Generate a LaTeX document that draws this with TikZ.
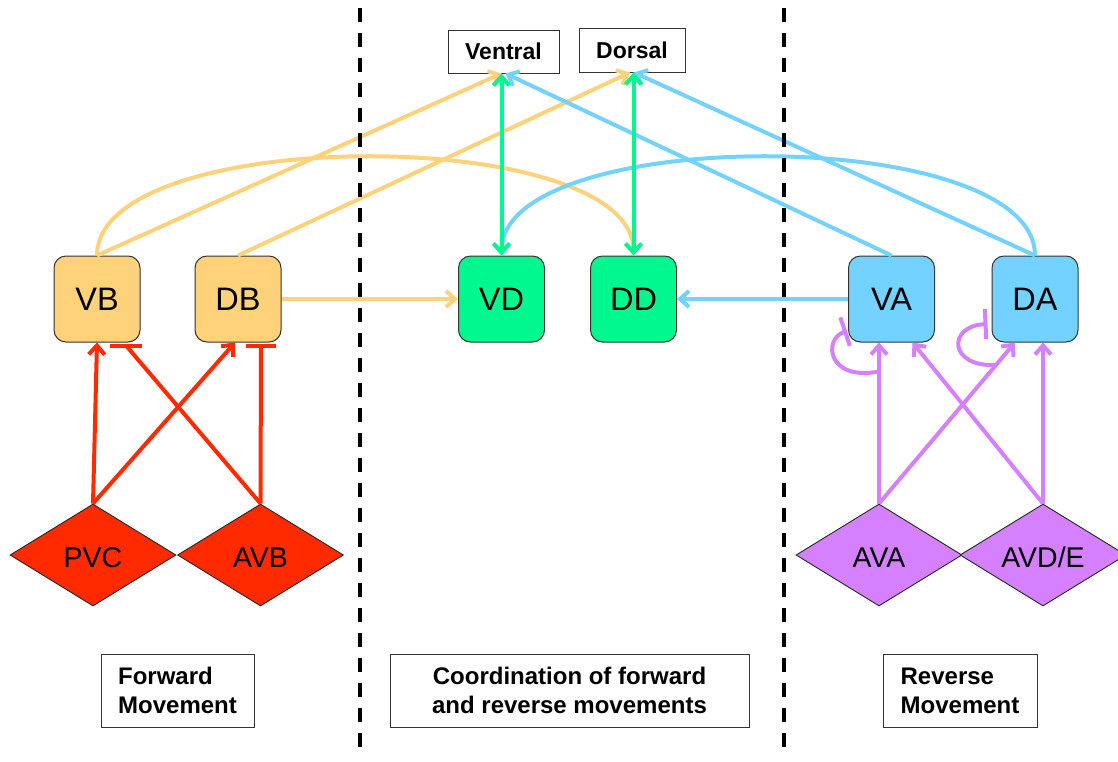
\documentclass[tikz,border=0pt]{standalone}
\usepackage{fontspec}
\setmainfont{Liberation Sans}
\usetikzlibrary{shapes.geometric,arrows.meta,calc}
\definecolor{cyel}{RGB}{253,210,122}
\definecolor{cgrn}{RGB}{0,248,142}
\definecolor{cblu}{RGB}{115,210,255}
\definecolor{cred}{RGB}{255,42,0}
\definecolor{cpur}{RGB}{213,128,255}
\begin{document}
\begin{tikzpicture}[x=1pt,y=-1pt,
  cell/.style={draw=black!80, line width=1pt, rounded corners=12pt, minimum width=86pt, minimum height=86pt, inner sep=0pt, font=\fontsize{32.5}{36}\selectfont},
  dia/.style={diamond, aspect=1.63, draw=black!85, line width=0.9pt, minimum width=166pt, minimum height=102pt, inner sep=0pt, text height=25pt, text depth=0pt, font=\fontsize{28.5}{32}\selectfont},
  lab/.style={draw=black!80, line width=0.9pt, fill=white, inner sep=0pt},
  toplab/.style={lab, font=\bfseries\fontsize{23}{28}\selectfont},
  botlab/.style={lab, font=\bfseries\fontsize{24}{29}\selectfont, minimum height=73pt},
  conn/.style={line width=4pt},
  arr/.style={conn, -{Straight Barb[length=9pt,width=16pt]}},
  darr/.style={conn, {Straight Barb[length=9pt,width=16pt]}-{Straight Barb[length=9pt,width=16pt]}},
  inh/.style={conn, -{Bar[width=30pt]}},
  divider/.style={line width=3.6pt, dash pattern=on 14pt off 11pt}
]
\useasboundingbox (0,0) rectangle (1118,761);
\clip (0,0) rectangle (1118,761);
\fill[white] (0,0) rectangle (1118,761);

% cells
\node[cell, fill=cyel] (VB) at (97,299) {VB};
\node[cell, fill=cyel] (DB) at (238,299) {DB};
\node[cell, fill=cgrn] (VD) at (501.5,299) {VD};
\node[cell, fill=cgrn] (DD) at (633.5,299) {DD};
\node[cell, fill=cblu] (VA) at (891.5,299) {VA};
\node[cell, fill=cblu] (DA) at (1035,299) {DA};

% interneurons
\node[dia, fill=cred] (PVC) at (93,555) {PVC};
\node[dia, fill=cred] (AVB) at (260.5,555) {AVB};
\node[dia, fill=cpur] (AVA) at (879,555) {AVA};
\node[dia, fill=cpur] (AVDE) at (1043,555) {AVD/E};

% top labels
\node[toplab, minimum width=111pt, minimum height=43pt] (Ven) at (503.5,51.5) {Ventral};
\node[toplab, minimum width=106pt, minimum height=44pt] (Dor) at (632,50) {Dorsal};

% bottom labels
\node[botlab, minimum width=153pt, align=left] (FM) at (177.5,690.5) {Forward\\Movement};
\node[botlab, minimum width=359pt, align=center] (CO) at (569.5,690.5) {Coordination of forward\\and reverse movements};
\node[botlab, minimum width=154pt, align=left] (RM) at (960,690.5) {Reverse\\Movement};

% yellow (B) connections
\draw[arr, cyel] (VB.north) -- ($(Ven.south)+(-2,0)$);
\draw[arr, cyel] (DB.north) -- ($(Dor.south)+(-2,0)$);
\draw[arr, cyel] (VB.north) .. controls (97,124) and (633.5,124) .. (DD.north);
\draw[arr, cyel] (DB.east) -- (VD.west);

% blue (A) connections
\draw[arr, cblu] (VA.north) -- ($(Ven.south)+(2,0)$);
\draw[arr, cblu] (DA.north) -- ($(Dor.south)+(2,0)$);
\draw[arr, cblu] (DA.north) .. controls (1035,124) and (501.5,124) .. (VD.north);
\draw[arr, cblu] (VA.west) -- (DD.east);

% green (D) connections
\draw[darr, cgrn] (VD.north |- Ven.south) -- (VD.north);
\draw[darr, cgrn] (DD.north |- Dor.south) -- (DD.north);

% red (forward) connections
\coordinate (VBa) at (VB.south);
\coordinate (DBa) at ($(DB.south)+(-3,0)$);
\coordinate (VBi) at ($(VB.south)+(29,3)$);
\coordinate (DBi) at ($(DB.south)+(23,3)$);
\draw[arr, cred] (PVC.north) -- (VBa);
\draw[arr, cred] (PVC.north) -- (DBa);
\draw[conn, cred] (AVB.north) -- (VBi);
\draw[conn, cred] ($(VBi)+(-16,0)$) -- ($(VBi)+(16,0)$);
\draw[conn, cred] (AVB.north) -- (DBi);
\draw[conn, cred] ($(DBi)+(-15,0)$) -- ($(DBi)+(15,0)$);

% purple (reverse) connections
\coordinate (VAa) at (VA.south -| AVA.north);
\coordinate (VAb) at ($(VA.south)+(21,0)$);
\coordinate (DAa) at ($(DA.south)+(-20,0)$);
\coordinate (DAb) at (DA.south -| AVDE.north);
\draw[arr, cpur] (AVA.north) -- (VAa);
\draw[arr, cpur] (AVA.north) -- (DAa);
\draw[arr, cpur] (AVDE.north) -- (DAb);
\draw[arr, cpur] (AVDE.north) -- (VAb);
\coordinate (VAl0) at ($(AVA.north)!0.82!(VAa)$);
\coordinate (VAl1) at ($(VA.west)+(-1,32)$);
\draw[inh, cpur] (VAl0) .. controls ($(VAl0)+(-52,10)$) and ($(VAl1)+(-24,8)$) .. (VAl1);
\coordinate (DAl0) at ($(AVA.north)!0.86!(DAa)$);
\coordinate (DAl1) at ($(DA.west)+(-4,25)$);
\draw[inh, cpur] (DAl0) .. controls ($(DAl0)+(-48,2)$) and ($(DAl1)+(-40,2)$) .. (DAl1);

% dividers
\coordinate (L1t) at (360,8); \coordinate (L1b) at (360,753);
\coordinate (L2t) at (784,8); \coordinate (L2b) at (784,753);
\draw[divider] (L1t) -- (L1b);
\draw[divider] (L2t) -- (L2b);
\end{tikzpicture}
\end{document}
